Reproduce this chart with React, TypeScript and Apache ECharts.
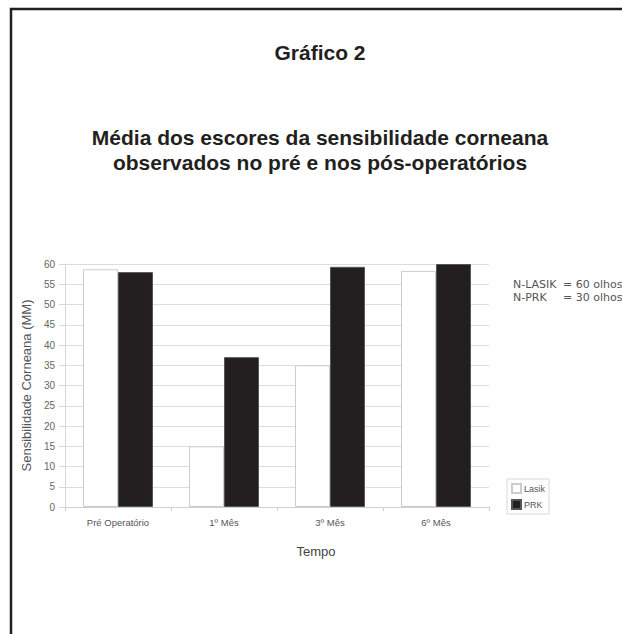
import React, { useEffect, useRef } from "react";
import * as echarts from "echarts";

const categories = ["Pré Operatório", "1º Mês", "3º Mês", "6º Mês"];
const lasikValues = [58.7, 15, 35, 58.3];
const prkValues = [58, 37, 59.3, 60];
const seriesNames = ["Lasik", "PRK"];
const titleLines = [
  "Gráfico 2",
  "Média dos escores da sensibilidade corneana",
  "observados no pré e nos pós-operatórios",
];
const noteLabels = ["N-LASIK", "N-PRK"];
const noteValues = ["= 60 olhos", "= 30 olhos"];

export default function App() {
  const ref = useRef<HTMLDivElement>(null);
  useEffect(() => {
    if (!ref.current) return;
    const chart = echarts.init(ref.current, null, { renderer: "svg" });
    const font = "'Liberation Sans', Arial, sans-serif";
    const titleFont = "bold 21px 'Liberation Sans', Arial, sans-serif";
    const noteFont = "11px 'DejaVu Sans', Verdana, sans-serif";
    chart.setOption({
      animation: false,
      backgroundColor: "#ffffff",
      textStyle: { fontFamily: font },
      grid: { left: 65, right: 133, top: 264, bottom: 127, containLabel: false },
      legend: {
        orient: "vertical",
        left: 507,
        top: 479,
        data: seriesNames,
        itemWidth: 9,
        itemHeight: 9,
        itemGap: 5,
        padding: [4, 4, 4, 4],
        borderColor: "#d8d8d8",
        borderWidth: 1,
        icon: "rect",
        textStyle: { fontSize: 9, color: "#555", fontFamily: font, padding: [0, 0, 0, -2] },
      },
      xAxis: {
        type: "category",
        data: categories,
        axisLine: { show: true, lineStyle: { color: "#cfcfcf", width: 1 } },
        axisTick: { show: true, length: 4, lineStyle: { color: "#cfcfcf" } },
        axisLabel: { fontSize: 9.5, color: "#555", margin: 10, fontFamily: font },
        splitLine: { show: false },
      },
      yAxis: {
        type: "value",
        min: 0,
        max: 60,
        interval: 5,
        name: "Sensibilidade Corneana (MM)",
        nameLocation: "middle",
        nameGap: 22,
        nameTextStyle: { fontSize: 13, color: "#555", fontFamily: font },
        axisLine: { show: true, lineStyle: { color: "#d8d8d8" } },
        axisTick: { show: true, length: 6, lineStyle: { color: "#d8d8d8" } },
        axisLabel: { fontSize: 10, color: "#666", margin: 10, fontFamily: font },
        splitLine: { show: true, lineStyle: { color: "#dcdcdc", width: 1 } },
      },
      series: [
        {
          name: seriesNames[0],
          type: "bar",
          data: lasikValues,
          barGap: "0%",
          barCategoryGap: "34%",
          itemStyle: { color: "#ffffff", borderColor: "#cccccc", borderWidth: 1 },
        },
        {
          name: seriesNames[1],
          type: "bar",
          data: prkValues,
          barGap: "0%",
          barCategoryGap: "34%",
          itemStyle: { color: "#231f20", borderColor: "#555555", borderWidth: 1 },
        },
      ],
      graphic: [
        {
          type: "rect",
          shape: { x: 11, y: 9, width: 700, height: 700 },
          style: { fill: "none", stroke: "#231f20", lineWidth: 2.5 },
          silent: true,
        },
        {
          type: "text",
          x: 320,
          y: 52,
          style: { text: titleLines[0], font: titleFont, fill: "#231f20", textAlign: "center", textVerticalAlign: "middle" },
        },
        {
          type: "text",
          x: 320,
          y: 137,
          style: { text: titleLines[1], font: titleFont, fill: "#231f20", textAlign: "center", textVerticalAlign: "middle" },
        },
        {
          type: "text",
          x: 320,
          y: 162,
          style: { text: titleLines[2], font: titleFont, fill: "#231f20", textAlign: "center", textVerticalAlign: "middle" },
        },
        {
          type: "text",
          x: 513,
          y: 284,
          style: { text: noteLabels[0], font: noteFont, fill: "#555", textVerticalAlign: "middle" },
        },
        {
          type: "text",
          x: 563,
          y: 284,
          style: { text: noteValues[0], font: noteFont, fill: "#555", textVerticalAlign: "middle" },
        },
        {
          type: "text",
          x: 513,
          y: 297,
          style: { text: noteLabels[1], font: noteFont, fill: "#555", textVerticalAlign: "middle" },
        },
        {
          type: "text",
          x: 563,
          y: 297,
          style: { text: noteValues[1], font: noteFont, fill: "#555", textVerticalAlign: "middle" },
        },
        {
          type: "text",
          x: 316,
          y: 551,
          style: {
            text: "Tempo",
            font: "13px 'Liberation Sans', Arial, sans-serif",
            fill: "#444",
            textAlign: "center",
            textVerticalAlign: "middle",
          },
        },
      ],
    });
    return () => chart.dispose();
  }, []);
  return (
    <div
      ref={ref}
      style={{ position: "fixed", left: 0, top: 0, width: 622, height: 634, overflow: "hidden" }}
    />
  );
}
